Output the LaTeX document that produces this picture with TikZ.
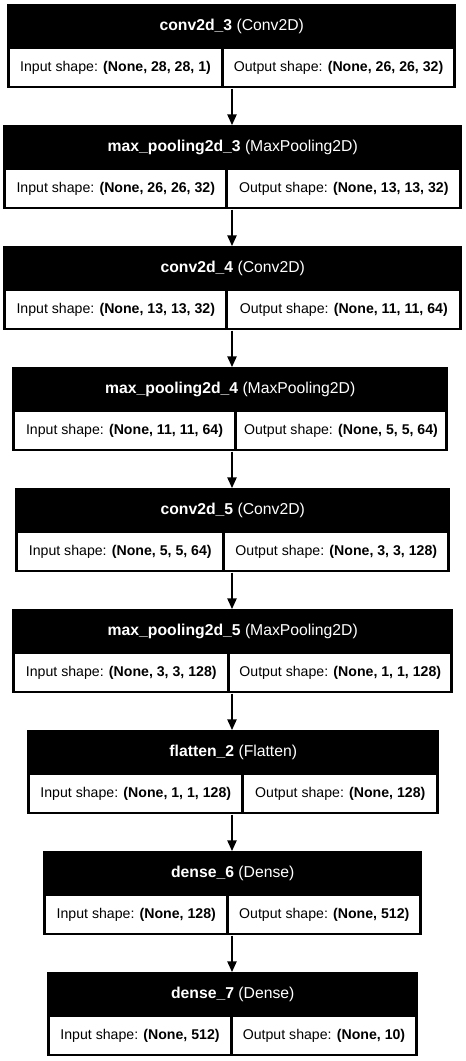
\documentclass[tikz,border=0pt]{standalone}
\usepackage{fontspec}
\setmainfont{Liberation Sans}
\usepackage{tikz}
\usetikzlibrary{arrows.meta, positioning, calc}
\tikzset{
    % Layer block: black frame holding title and shape cells
    layerbox/.style={
        rectangle,
        fill=black,
        inner sep=0pt,
        anchor=north west,
        minimum height=63pt
    },
    titlebox/.style={
        rectangle,
        inner sep=0pt,
        anchor=north west,
        minimum height=33.75pt,
        text=white,
        font=\fontsize{11.8}{14}\selectfont
    },
    cellbox/.style={
        rectangle,
        fill=white,
        inner sep=0pt,
        anchor=north west,
        minimum height=27.75pt,
        text centered,
        font=\fontsize{10.6}{13}\selectfont
    },
    % Arrow style
    flowarrow/.style={
        -{Triangle[length=8pt,width=7pt]},
        line width=1.1pt,
        black
    }
}
\begin{document}
\begin{tikzpicture}[x=0.75pt, y=-0.75pt]
    \fill[white] (0,0) rectangle (465,1061);
    \useasboundingbox (0,0) rectangle (465,1061);

    % Layers: index/top/left/right/divider/name/type/input/output
    \foreach \n/\t/\l/\r/\d/\name/\kind/\inp/\outp in {
        1/4/7/456/222/conv2d\_3/Conv2D/{28, 28, 1}/{26, 26, 32},
        2/125/3/462/226.5/max\_pooling2d\_3/MaxPooling2D/{26, 26, 32}/{13, 13, 32},
        3/246/3/462/226.5/conv2d\_4/Conv2D/{13, 13, 32}/{11, 11, 64},
        4/367/12/448/235/max\_pooling2d\_4/MaxPooling2D/{11, 11, 64}/{5, 5, 64},
        5/488/15/450/223.5/conv2d\_5/Conv2D/{5, 5, 64}/{3, 3, 128},
        6/609/12/453/228.5/max\_pooling2d\_5/MaxPooling2D/{3, 3, 128}/{1, 1, 128},
        7/730/27/439/242.5/flatten\_2/Flatten/{1, 1, 128}/{128},
        8/851/43/422/227.5/dense\_6/Dense/{128}/{512},
        9/972/47/418/231/dense\_7/Dense/{512}/{10}} {
        \pgfmathsetmacro\bw{(\r-\l)*0.75}
        \pgfmathsetmacro\iw{(\d-\l-4.5)*0.75}
        \pgfmathsetmacro\ow{(\r-\d-4.5)*0.75}
        \node[layerbox, minimum width=\bw pt] (b\n) at (\l,\t) {};
        \node[titlebox, minimum width=\bw pt] (t\n) at (\l,\t) {\textbf{\name} (\kind)};
        \node[cellbox, minimum width=\iw pt] (i\n) at (\l+3,\t+45) {Input shape: \textbf{(None, \inp)}};
        \node[cellbox, minimum width=\ow pt] (o\n) at (\d+1.5,\t+45) {Output shape: \textbf{(None, \outp)}};
    }

    % Connections between layers, all on one vertical axis
    \coordinate (axis) at (232,0);
    \foreach \n [evaluate=\n as \m using int(\n+1)] in {1,...,8} {
        \draw[flowarrow] (b\n.south -| axis) -- (b\m.north -| axis);
    }
\end{tikzpicture}
\end{document}
